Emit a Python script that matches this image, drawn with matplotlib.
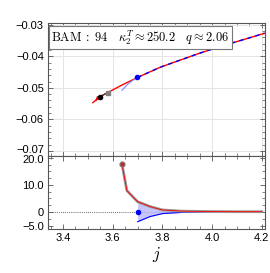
import numpy as np
import matplotlib
matplotlib.use("Agg")
from matplotlib import pyplot as plt
from matplotlib.ticker import MultipleLocator, FixedLocator, FixedFormatter
from matplotlib.transforms import ScaledTranslation

plt.rcParams["font.family"] = ["Liberation Sans", "DejaVu Sans"]
plt.rcParams["mathtext.fontset"] = "cm"

# top panel: binding energy curve
j_top = [3.52, 3.55, 3.58, 3.64, 3.70, 3.79, 3.85, 3.95, 4.04, 4.13, 4.21]
e_top = [-0.0547, -0.0528, -0.0515, -0.0490, -0.0467, -0.0435, -0.0418, -0.0390, -0.0367, -0.0346, -0.0327]
j_fit = [3.637, 3.661, 3.688, 3.699]
e_fit = [-0.0508, -0.0488, -0.0472, -0.0467]
j_black, e_black = 3.548, -0.0528
j_gray, e_gray = 3.581, -0.0515
j_blue, e_blue = 3.699, -0.0467
j_arrow, e_arrow = 3.521, -0.0547

# bottom panel: relative difference
j_bot = [3.637, 3.657, 3.70, 3.75, 3.80, 3.88, 4.0, 4.1, 4.2]
d_bot = [17.8, 7.9, 3.8, 2.0, 0.75, 0.3, 0.15, 0.1, 0.1]
band_j = [3.70, 3.75, 3.80, 3.88, 4.0, 4.1, 4.2]
band_hi = [3.8, 2.0, 0.75, 0.3, 0.15, 0.1, 0.1]
band_lo = [-3.6, -1.7, -0.6, -0.15, -0.02, 0.02, 0.05]

label = r"$\mathrm{BAM}\;:\;94 \quad \kappa_2^T \approx 250.2 \quad q \approx 2.06$"

fig = plt.figure(figsize=(2.7, 2.73), dpi=100)
ax1 = fig.add_axes([0.178, 0.429, 0.803, 0.487])
ax2 = fig.add_axes([0.178, 0.161, 0.803, 0.268], sharex=ax1)

# top
ax1.grid(True, color="#e4e4e4", lw=0.7)
ax1.plot(j_top, e_top, color="red", lw=1.0, zorder=3)
i_b = j_top.index(3.70)
ax1.plot(j_top[i_b:], e_top[i_b:], color="blue", lw=1.0, ls=(0, (3, 3)), zorder=4)
ax1.plot([j_black, j_gray], [e_black, e_gray], color="#333333", lw=0.8, zorder=4)
ax1.plot(j_fit, e_fit, color="#8080ff", lw=0.8, zorder=3)
ax1.annotate("", xy=(j_arrow, e_arrow), xytext=(j_black, e_black),
             arrowprops=dict(arrowstyle="-|>", color="red", lw=0.8, mutation_scale=6), zorder=5)
ax1.plot(j_black, e_black, "o", color="black", ms=3, zorder=6)
ax1.plot(j_gray, e_gray, "s", color="gray", ms=2.6, zorder=6)
ax1.plot(j_blue, e_blue, "o", color="blue", ms=3, zorder=6)
ax1.set_ylim(-0.0716, -0.0294)
ax1.set_xlim(3.34, 4.212)
ax1.yaxis.set_major_locator(FixedLocator([-0.07, -0.06, -0.05, -0.04, -0.03]))
ax1.yaxis.set_major_formatter(FixedFormatter(["\u22120.07", "\u22120.06", "\u22120.05", "\u22120.04", "\u22120.03"]))
ax1.yaxis.set_minor_locator(MultipleLocator(0.002))
ax1.tick_params(labelbottom=False)
ax1.text(0.015, 0.96, label, transform=ax1.transAxes, fontsize=9, va="top", ha="left",
         bbox=dict(boxstyle="square,pad=0.2", fc="white", ec="#777777", lw=0.8), zorder=10)

# bottom
ax2.axhline(0, color="#333333", lw=0.6, ls=(0, (1, 1.5)), zorder=1)
ax2.fill_between(band_j, band_lo, band_hi, color="#b8b8ff", alpha=0.8, lw=0, zorder=2)
ax2.plot(band_j, band_hi, color="blue", lw=0.8, zorder=3)
ax2.plot(band_j, band_lo, color="blue", lw=0.8, zorder=3)
ax2.plot(j_bot, d_bot, color="#999999", lw=2.0, zorder=4)
ax2.plot(j_bot, d_bot, color="red", lw=0.6, zorder=5)
ax2.plot(j_bot[0], d_bot[0], "o", color="gray", ms=3.5, zorder=6)
ax2.plot(j_bot[0], d_bot[0], "o", color="#cc2222", ms=1.8, zorder=7)
ax2.plot(3.70, 0, "o", color="blue", ms=3, zorder=6)
ax2.set_ylim(-6.3, 20.7)
ax2.yaxis.set_major_locator(FixedLocator([-5, 0, 10, 20]))
ax2.yaxis.set_major_formatter(FixedFormatter(["\u22125.0", "0", "10.0", "20.0"]))
ax2.yaxis.set_minor_locator(MultipleLocator(2.5))
ax2.xaxis.set_major_locator(MultipleLocator(0.2))
ax2.xaxis.set_minor_locator(MultipleLocator(0.05))
ax2.set_xlabel(r"$j$", fontsize=12, labelpad=1)

for ax in (ax1, ax2):
    ax.tick_params(which="both", direction="in", top=True, right=True, labelsize=8, pad=3,
                   color="#555555")
    ax.tick_params(which="major", length=3.5, width=0.6)
    ax.tick_params(which="minor", length=2, width=0.5)
    for s in ax.spines.values():
        s.set_color("#555555")
        s.set_linewidth(0.8)

# keep the two labels at the panel joint from touching
fig.canvas.draw()
for lbl in ax1.get_yticklabels():
    if lbl.get_text() == "\u22120.07":
        lbl.set_transform(lbl.get_transform() + ScaledTranslation(0, 1.5 / 72, fig.dpi_scale_trans))
for lbl in ax2.get_yticklabels():
    if lbl.get_text() == "20.0":
        lbl.set_transform(lbl.get_transform() + ScaledTranslation(0, -1.0 / 72, fig.dpi_scale_trans))

fig.savefig("out.png", dpi=100)
